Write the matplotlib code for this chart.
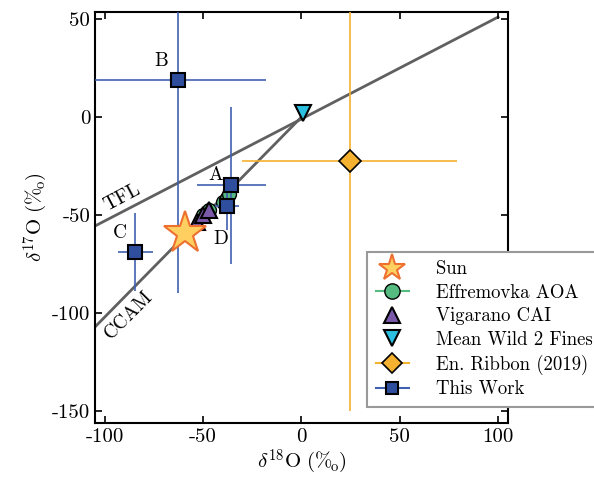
import numpy as np
import matplotlib
matplotlib.use('Agg')
from matplotlib import pyplot as plt
from matplotlib.lines import Line2D

plt.rcParams['font.family'] = ['cmr10', 'DejaVu Serif']
plt.rcParams['mathtext.fontset'] = 'cm'
plt.rcParams['axes.unicode_minus'] = False
plt.rcParams['axes.formatter.use_mathtext'] = False

# reference lines
tfl_x = [-105, 100]
tfl_slope, tfl_icpt = 0.52, -0.8
ccam_x = [-105, 1.5]
ccam_slope, ccam_icpt = 1.02, 0.2

# data sets (d18O, d17O)
sun = (-59, -59)
eff_x = [-50, -47, -40, -38, -37]
eff_y = [-50, -47, -43, -41, -39]
vig_x = [-53, -50, -47]
vig_y = [-53.5, -50, -47.5]
wild2 = (1, 2)
ribbon = (24.5, -22)
ribbon_xerr = 54.5
ribbon_yerr = 128

work_names = ['A', 'B', 'C', 'D']
work_x = [-35.6, -62.8, -84.5, -37.8]
work_y = [-34.7, 18.9, -68.7, -45]
work_xerr = [17.4, 45, 9, 6]
work_yerr = [40, 108.7, 20, 12.5]

c_eff = '#55bb80'
c_vig = '#7a5aa8'
c_wild = '#2cc0e0'
c_rib = '#f5b130'
c_work = '#2f4f9e'
c_work_err = '#4060b0'

fig = plt.figure(figsize=(5.94, 4.83), dpi=100)
ax = fig.add_axes([0.16, 0.124, 0.695, 0.852])

xx = np.array(tfl_x)
ax.plot(xx, tfl_slope * xx + tfl_icpt, color='#606060', lw=2, zorder=1)
xx = np.array(ccam_x)
ax.plot(xx, ccam_slope * xx + ccam_icpt, color='#606060', lw=2, zorder=1)

ax.errorbar(ribbon[0], ribbon[1], xerr=ribbon_xerr, yerr=ribbon_yerr, fmt='D',
            color=c_rib, mfc=c_rib, mec='black', mew=1.2, ms=11, elinewidth=1.2, zorder=3)
ax.errorbar(eff_x, eff_y, xerr=0.5, yerr=0.5, fmt='o', color=c_eff,
            mfc=c_eff, mec='black', ms=10, zorder=3)
ax.errorbar(work_x, work_y, xerr=work_xerr, yerr=work_yerr, fmt='s',
            color=c_work_err, mfc=c_work, mec='black', mew=1.5, ms=10,
            elinewidth=1.2, zorder=4)
ax.plot(vig_x, vig_y, '^', color=c_vig, mec='black', mew=1.5, ms=12, ls='none', zorder=6)
ax.plot(wild2[0], wild2[1], 'v', color=c_wild, mec='black', mew=1.5, ms=12, ls='none', zorder=6)
ax.plot(sun[0], sun[1], '*', color='#ffd060', mec='#ee7030', mew=1.5, ms=32, ls='none', zorder=7)

# point labels
lab_x = [-43.8, -71.4, -92.5, -41]
lab_y = [-29.6, 29, -59, -62]
for n, lx, ly in zip(work_names, lab_x, lab_y):
    ax.text(lx, ly, n, fontsize=14, ha='center', va='center')
ax.text(-91, -41, 'TFL', fontsize=14, rotation=28, ha='center', va='center')
ax.text(-88, -101, 'CCAM', fontsize=14, rotation=45, ha='center', va='center')

ax.set_xlim(-105, 105)
ax.set_ylim(-156, 54)
ax.set_xticks([-100, -50, 0, 50, 100])
ax.set_yticks([-150, -100, -50, 0, 50])
ax.tick_params(direction='in', top=True, right=True, labelsize=15, length=5, width=1.2)
for s in ax.spines.values():
    s.set_linewidth(1.5)
permil = r'(\%\!_{\mathrm{o}})'
ax.set_xlabel(r'$\delta^{18}\mathrm{O}\ ' + permil + '$', fontsize=15, labelpad=1)
ax.set_ylabel(r'$\delta^{17}\mathrm{O}\ ' + permil + '$', fontsize=15, labelpad=1)

handles = [
    Line2D([], [], marker='*', color='#ffd060', mec='#ee7030', mew=1.5, ms=20, ls='none'),
    Line2D([], [], marker='o', color=c_eff, mfc=c_eff, mec='black', ms=11, lw=1.5),
    Line2D([], [], marker='^', color=c_vig, mec='black', mew=1.5, ms=12, ls='none'),
    Line2D([], [], marker='v', color=c_wild, mec='black', mew=1.5, ms=12, ls='none'),
    Line2D([], [], marker='D', color=c_rib, mfc=c_rib, mec='black', mew=1.2, ms=10, lw=1.5),
    Line2D([], [], marker='s', color=c_work_err, mfc=c_work, mec='black', mew=1.5, ms=9, lw=1.5),
]
labels = ['Sun', 'Effremovka AOA', 'Vigarano CAI', 'Mean Wild 2 Fines', 'En. Ribbon (2019)', 'This Work']
leg = ax.legend(handles, labels, loc='upper left', bbox_to_anchor=(0.659, 0.416),
                fontsize=13.5, fancybox=False, edgecolor='#999999', framealpha=1,
                handletextpad=1.4, handlelength=1.8, borderaxespad=0, borderpad=0.45,
                labelspacing=0.3)
leg.get_frame().set_linewidth(1.5)

fig.savefig('out.png', dpi=100)
